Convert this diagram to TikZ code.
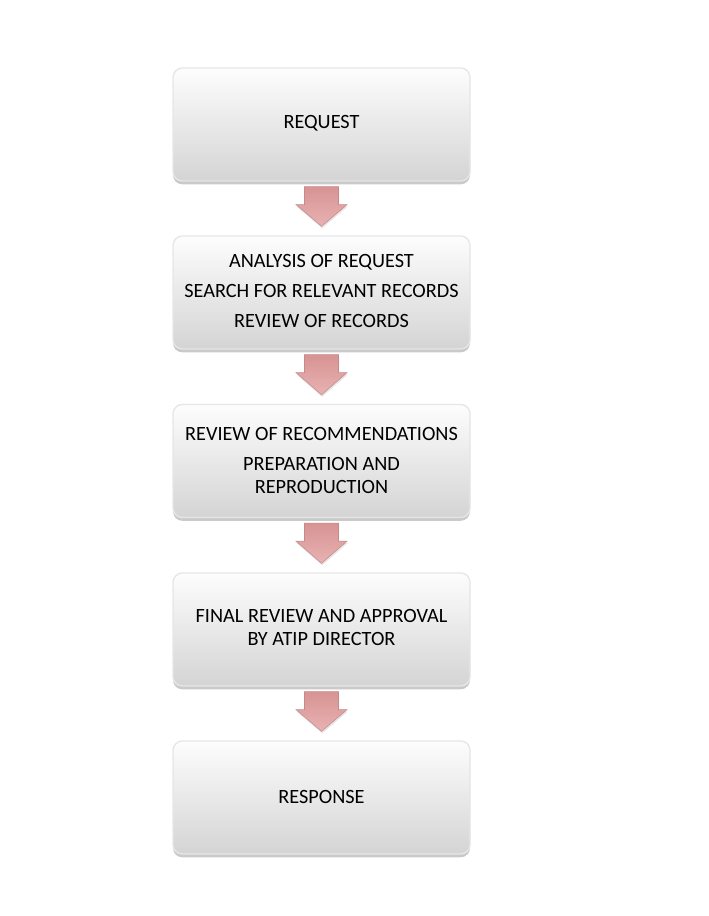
\documentclass[tikz,border=0pt]{standalone}
\usepackage{fontspec}
\setmainfont{Carlito}
\usetikzlibrary{calc,shadows}
\definecolor{boxtop}{HTML}{FDFDFD}
\definecolor{boxbot}{HTML}{D4D4D4}
\definecolor{boxedge}{HTML}{E6E6E6}
\definecolor{arrtop}{HTML}{D89393}
\definecolor{arrbot}{HTML}{E8B2B2}
\definecolor{arredge}{HTML}{C48A8A}
\begin{document}
\begin{tikzpicture}[x=0.75pt,y=-0.75pt,
  stepbox/.style={rectangle, rounded corners=7pt, draw=boxedge, line width=1pt,
    top color=boxtop, bottom color=boxbot,
    minimum width=297*0.75pt, minimum height=113*0.75pt,
    drop shadow={shadow xshift=0pt, shadow yshift=-2.5pt, opacity=0.35, fill=black!60}},
  boxtext/.style={align=center, font=\fontsize{15.2pt}{17.25pt}\selectfont, inner sep=0pt, text=black},
  downarrow/.style={top color=arrtop, bottom color=arrbot, draw=arredge, line width=0.4pt,
    drop shadow={shadow xshift=0.5pt, shadow yshift=-1.5pt, opacity=0.2}}
]
\useasboundingbox (0,0) rectangle (708,916);
\node[stepbox] (b1) at (321.5,124.5) {};
\node[stepbox] (b2) at (321.5,292.5) {};
\node[stepbox] (b3) at (321.5,461) {};
\node[stepbox] (b4) at (321.5,629.5) {};
\node[stepbox] (b5) at (321.5,797.5) {};
\node[boxtext] (t1) at ($(b1.center)+(0,-1)$) {REQUEST};
\node[boxtext] (t2) at ($(b2.center)+(0,-1.5)$) {ANALYSIS OF REQUEST\\[5.25pt]SEARCH FOR RELEVANT RECORDS\\[5.25pt]REVIEW OF RECORDS};
\node[boxtext] (t3) at ($(b3.center)+(0,-1)$) {REVIEW OF RECOMMENDATIONS\\[5.25pt]PREPARATION AND\\REPRODUCTION};
\node[boxtext] (t4) at ($(b4.center)+(0,-2)$) {FINAL REVIEW AND APPROVAL\\BY ATIP DIRECTOR};
\node[boxtext] (t5) at ($(b5.center)+(0,-1)$) {RESPONSE};
\foreach \a/\b in {b1/b2,b2/b3,b3/b4,b4/b5}{
  \path[downarrow]
    ($(\a.south)+(-17,5)$) -- ($(\a.south)+(17,5)$) -- ($(\a.south)+(17,23)$)
    -- ($(\a.south)+(25.5,23)$) -- ($(\b.north)+(0,-9)$) -- ($(\a.south)+(-25.5,23)$)
    -- ($(\a.south)+(-17,23)$) -- cycle;
}
\end{tikzpicture}
\end{document}
